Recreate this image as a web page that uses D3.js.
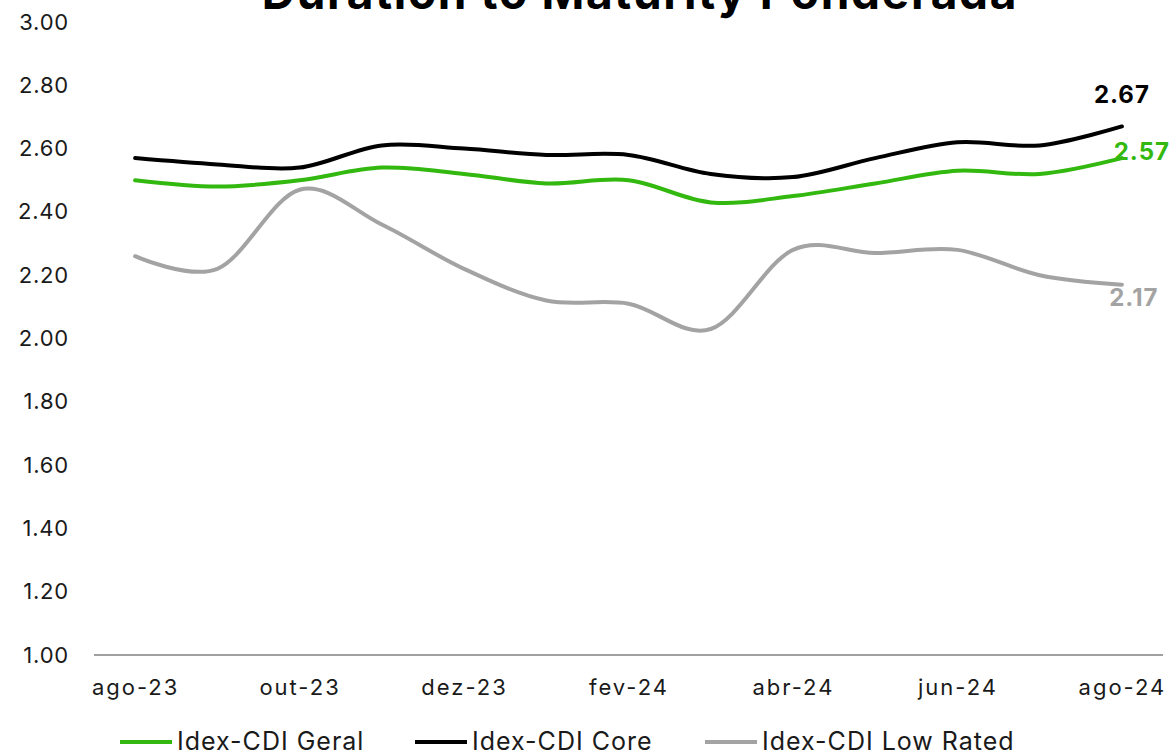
<!DOCTYPE html>
<html>
<head>
<meta charset="utf-8">
<script src="https://cdn.jsdelivr.net/npm/d3@7"></script>
<style>
	body { margin: 0; background: #fff; }
	svg { display: block; font-family: Inter, "Open Sans", sans-serif; }
</style>
</head>
<body>
<svg id="chart"></svg>
<script>
var months = ["ago-23", "set-23", "out-23", "nov-23", "dez-23", "jan-24", "fev-24",
	"mar-24", "abr-24", "mai-24", "jun-24", "jul-24", "ago-24"];
var tickMonths = ["ago-23", "out-23", "dez-23", "fev-24", "abr-24", "jun-24", "ago-24"];
var geral = [2.50, 2.48, 2.50, 2.54, 2.52, 2.49, 2.50, 2.43, 2.45, 2.49, 2.53, 2.52, 2.57];
var core = [2.57, 2.55, 2.54, 2.61, 2.60, 2.58, 2.58, 2.52, 2.51, 2.57, 2.62, 2.61, 2.67];
var lowRated = [2.26, 2.22, 2.47, 2.36, 2.22, 2.12, 2.11, 2.03, 2.28, 2.27, 2.28, 2.20, 2.17];
var yTicks = [1.0, 1.2, 1.4, 1.6, 1.8, 2.0, 2.2, 2.4, 2.6, 2.8, 3.0];

var series = [
	{ name: "Idex-CDI Geral", values: geral, color: "#33b80f", lx: 120, dx: 20, dy: -5 },
	{ name: "Idex-CDI Core", values: core, color: "#000000", lx: 415, dx: 0, dy: -30 },
	{ name: "Idex-CDI Low Rated", values: lowRated, color: "#a3a3a3", lx: 705, dx: 12, dy: 15 }
];

var W = 1173, H = 755;
var margin = { top: 22, right: 10, bottom: 100, left: 94 };

var svg = d3.select("#chart").attr("width", W).attr("height", H);

var x = d3.scalePoint()
	.domain(months)
	.range([margin.left, W - margin.right])
	.padding(0.5);

var y = d3.scaleLinear()
	.domain([1, 3])
	.range([H - margin.bottom, margin.top]);

// title (cut at the top edge like the original)
svg.append("text")
	.attr("x", 640)
	.attr("y", 9)
	.attr("text-anchor", "middle")
	.attr("font-size", 46)
	.attr("font-weight", "bold")
	.attr("letter-spacing", 1.7)
	.attr("fill", "#000")
	.text("Duration to Maturity Ponderada");

// y axis labels only
var yAxis = svg.append("g")
	.attr("class", "y-axis")
	.attr("transform", "translate(69,0)")
	.call(d3.axisLeft(y).tickValues(yTicks).tickFormat(d3.format(".2f")).tickSize(0).tickPadding(0));
yAxis.select(".domain").remove();
yAxis.selectAll("text")
	.attr("font-size", 22)
	.attr("letter-spacing", 0.8)
	.attr("font-family", "Inter, 'Open Sans', sans-serif")
	.attr("fill", "#1a1a1a");

// x axis
var xAxis = svg.append("g")
	.attr("class", "x-axis")
	.attr("transform", "translate(0," + y(1) + ")")
	.call(d3.axisBottom(x).tickValues(tickMonths).tickSize(0).tickPadding(24).tickSizeOuter(0));
xAxis.select(".domain")
	.attr("stroke", "#a0a0a0")
	.attr("stroke-width", 2)
	.attr("d", "M" + margin.left + ",0H" + (W - margin.right));
xAxis.selectAll("text")
	.attr("font-size", 22)
	.attr("letter-spacing", 2)
	.attr("font-family", "Inter, 'Open Sans', sans-serif")
	.attr("fill", "#1a1a1a");

var line = d3.line()
	.x(function(d, i) { return x(months[i]); })
	.y(function(d) { return y(d); })
	.curve(d3.curveCardinal.tension(0));

// draw gray first so black/green sit on top
[series[2], series[0], series[1]].forEach(function(s) {
	svg.append("path")
		.datum(s.values)
		.attr("fill", "none")
		.attr("stroke", s.color)
		.attr("stroke-width", 4)
		.attr("stroke-linecap", "round")
		.attr("d", line);
});

// end labels
series.forEach(function(s) {
	var last = s.values[s.values.length - 1];
	svg.append("text")
		.attr("x", x(months[months.length - 1]) + s.dx)
		.attr("y", y(last) + s.dy)
		.attr("text-anchor", "middle")
		.attr("dominant-baseline", "middle")
		.attr("font-size", 24)
		.attr("font-weight", "bold")
		.attr("letter-spacing", 1)
		.attr("fill", s.color)
		.text(d3.format(".2f")(last));
});

// legend
var legend = svg.append("g").attr("class", "legend");
series.forEach(function(s) {
	var g = legend.append("g").attr("transform", "translate(" + s.lx + "," + 742 + ")");
	g.append("line")
		.attr("x1", 0).attr("x2", 52)
		.attr("stroke", s.color)
		.attr("stroke-width", 4);
	g.append("text")
		.attr("x", 57)
		.attr("y", 1)
		.attr("dominant-baseline", "middle")
		.attr("font-size", 25)
		.attr("letter-spacing", 1)
		.attr("fill", "#1a1a1a")
		.text(s.name);
});
</script>
</body>
</html>
